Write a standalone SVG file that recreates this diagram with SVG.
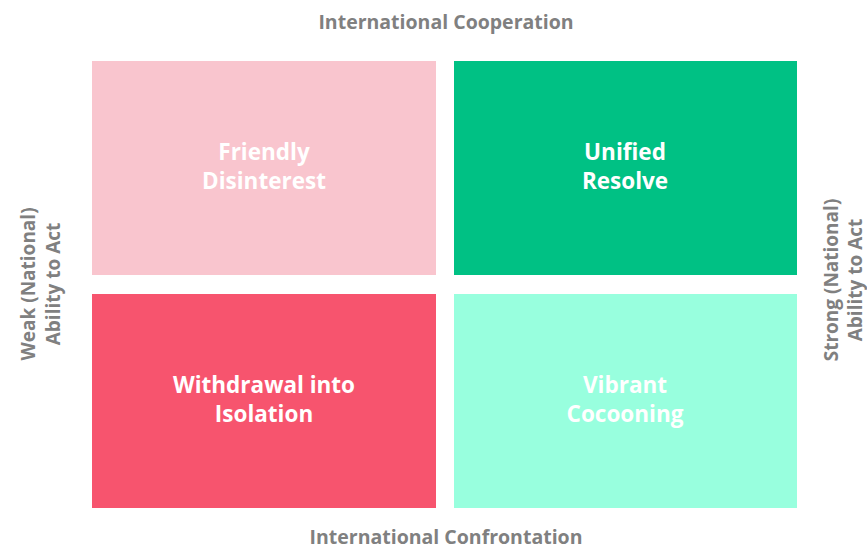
<svg xmlns="http://www.w3.org/2000/svg" width="867" height="551" viewBox="0 0 867 551">
<style>
.q{font-family:"Open Sans",Lato,sans-serif;font-weight:700;font-size:22.5px;fill:#ffffff;text-anchor:middle}
.ax{font-family:"Open Sans",Lato,sans-serif;font-weight:700;font-size:19.5px;fill:#808080;text-anchor:middle}
.sx{font-family:"Open Sans",Lato,sans-serif;font-weight:700;font-size:19px;fill:#808080;text-anchor:middle}
</style>
<rect width="867" height="551" fill="#ffffff"/>
<g id="friendly-disinterest">
<rect x="92" y="61" width="344" height="214" fill="#F9C5CE"/>
<text class="q" x="264" y="160">Friendly</text>
<text class="q" x="264" y="189">Disinterest</text>
</g>
<g id="unified-resolve">
<rect x="454" y="61" width="343" height="214" fill="#00C184"/>
<text class="q" x="625" y="160">Unified</text>
<text class="q" x="625" y="189">Resolve</text>
</g>
<g id="withdrawal-into-isolation">
<rect x="92" y="294" width="344" height="214" fill="#F7546E"/>
<text class="q" x="264" y="393">Withdrawal into</text>
<text class="q" x="264" y="422">Isolation</text>
</g>
<g id="vibrant-cocooning">
<rect x="454" y="294" width="343" height="214" fill="#98FFDE"/>
<text class="q" x="625" y="393">Vibrant</text>
<text class="q" x="625" y="422">Cocooning</text>
</g>
<g id="axis-labels">
<text class="ax" x="446" y="29">International Cooperation</text>
<text class="ax" x="446" y="544">International Confrontation</text>
<text class="sx" transform="translate(35,284) rotate(-90)">Weak (National)</text>
<text class="sx" transform="translate(60,284) rotate(-90)">Ability to Act</text>
<text class="sx" transform="translate(838,280) rotate(-90)">Strong (National)</text>
<text class="sx" transform="translate(862,280) rotate(-90)">Ability to Act</text>
</g>
</svg>
